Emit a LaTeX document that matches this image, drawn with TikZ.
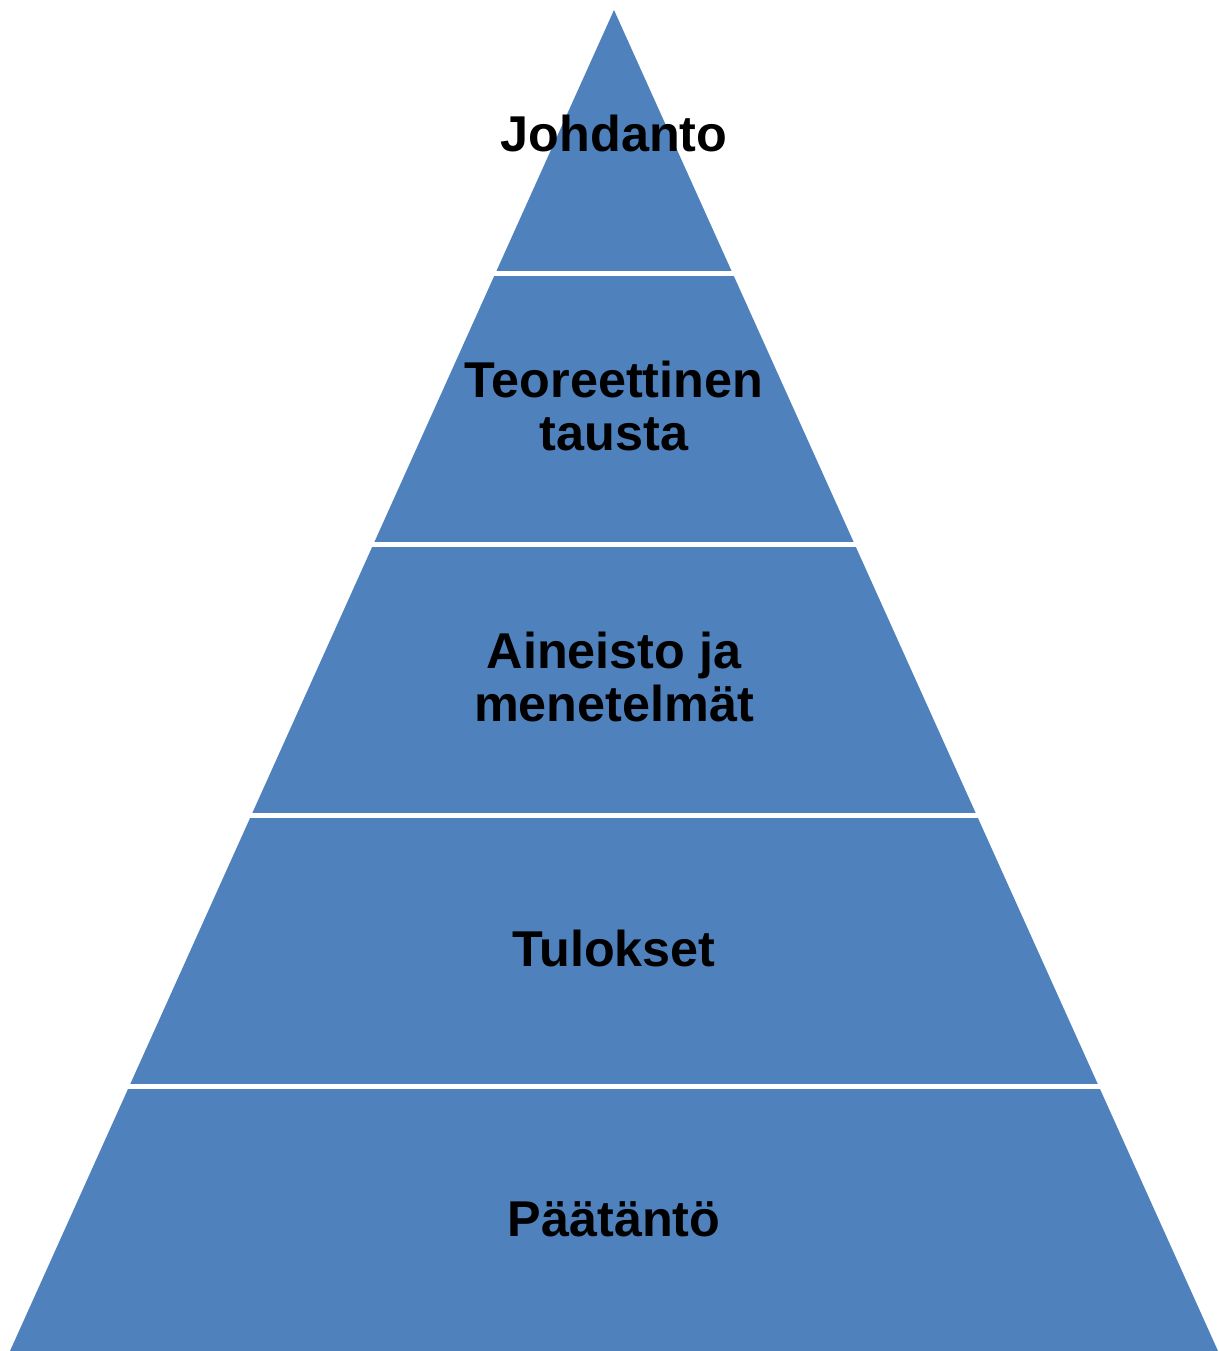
\documentclass[tikz,border=0pt]{standalone}
\usepackage{fontspec}
\setmainfont{Liberation Sans}
\definecolor{layerblue}{RGB}{79,129,189}
\tikzset{
  gap/.style={draw=white, line width=0.1cm},
  label/.style={font=\bfseries\fontsize{28.65}{29.8}\selectfont, align=center, inner sep=0pt}
}
\begin{document}
\begin{tikzpicture}[x=0.02cm,y=-0.02cm]
\useasboundingbox(0,0)rectangle(1219,1351);
\fill[layerblue](614,10)--(1218,1351)--(10,1351)--cycle;
\draw[gap](480,273.5)--(750,273.5);
\draw[gap](360,544.5)--(870,544.5);
\draw[gap](235,815.5)--(995,815.5);
\draw[gap](115,1086.5)--(1115,1086.5);
\node[label](johdanto)at(614,134){Johdanto};
\node[label](tausta)at(614,406){Teoreettinen\\tausta};
\node[label](aineisto)at(614,677){Aineisto ja\\menetelmät};
\node[label](tulokset)at(614,948){Tulokset};
\node[label](paatanto)at(614,1219){Päätäntö};
\end{tikzpicture}
\end{document}
